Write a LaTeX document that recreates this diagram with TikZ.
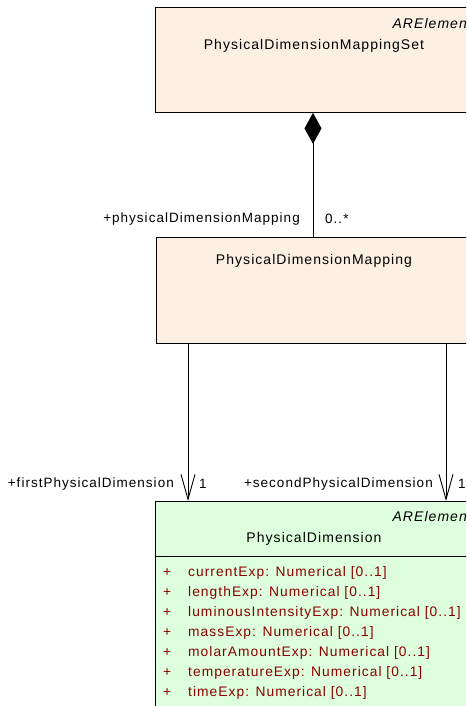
\documentclass[tikz,border=0pt]{standalone}
\usepackage{fontspec}
\newfontfamily\umlfont{Liberation Sans}[LetterSpace=7.5]
\usetikzlibrary{arrows.meta,positioning}
\definecolor{umlbeige}{RGB}{251,240,226}
\definecolor{umlgreen}{RGB}{221,255,221}
\definecolor{umlattr}{RGB}{140,0,0}
\begin{document}
\begin{tikzpicture}[
        x=1pt, y=-1pt,
        font=\umlfont\fontsize{14}{16}\selectfont,
        classbox/.style={draw, line width=0.9pt, anchor=north west, minimum width=318pt, inner sep=0pt},
        stereo/.style={anchor=east, font=\umlfont\itshape\fontsize{14}{16}\selectfont, inner sep=0pt},
        role/.style={inner sep=0pt, font=\umlfont\fontsize{13.5}{16}\selectfont},
        attr/.style={anchor=west, text=umlattr, inner sep=0pt, font=\umlfont\fontsize{13.8}{16}\selectfont},
        assoc/.style={draw, line width=0.9pt},
        navarrow/.style={assoc, -{Straight Barb[length=25pt, width=14pt, line width=0.9pt]}}
    ]
        \useasboundingbox (0,0) rectangle (466,706);
        \clip (0,0) rectangle (466,706);

        % classes
        \node[classbox, fill=umlbeige, minimum height=105pt] (mapset) at (155,7) {};
        \node[stereo] (mapsetst) at (472,23) {ARElement};
        \node[inner sep=0pt] (mapsetname) at (314,46) {PhysicalDimensionMappingSet};

        \node[classbox, fill=umlbeige, minimum height=106pt] (mapping) at (156,237) {};
        \node[inner sep=0pt] (mappingname) at (314,261) {PhysicalDimensionMapping};

        \node[classbox, fill=umlgreen, minimum height=230pt] (dim) at (155,501) {};
        \node[stereo] (dimst) at (472,516) {ARElement};
        \node[inner sep=0pt] (dimname) at (314,539) {PhysicalDimension};
        \draw[line width=0.9pt] (155,556) -- (473,556);

        % attributes
        \foreach \a [count=\i from 0] in {currentExp, lengthExp, luminousIntensityExp, massExp, molarAmountExp, temperatureExp, timeExp} {
            \node[attr] (plus\i) at (163,573+20*\i) {+};
            \node[attr] (attr\i) at (188,573+20*\i) {\a: Numerical [0..1]};
        }

        % connectors
        \coordinate (compx) at (313,0);
        \coordinate (firstx) at (188,0);
        \coordinate (secondx) at (446,0);
        \draw[assoc, {Diamond[length=31pt, width=17pt]}-] (mapset.south -| compx) -- (mapping.north -| compx);
        \draw[navarrow] (mapping.south -| firstx) -- (dim.north -| firstx);
        \draw[navarrow] (mapping.south -| secondx) -- (dim.north -| secondx);

        % role names and multiplicities
        \node[role, anchor=east] (maprole) at (300,219) {+physicalDimensionMapping};
        \node[role, anchor=west] (mapmult) at (325,219) {0..*};
        \node[role, anchor=east] (firstrole) at (174,484) {+firstPhysicalDimension};
        \node[role, anchor=west] (firstmult) at (199,484) {1};
        \node[role, anchor=east] (secondrole) at (433,484) {+secondPhysicalDimension};
        \node[role, anchor=west] (secondmult) at (458,484) {1};
\end{tikzpicture}
\end{document}
